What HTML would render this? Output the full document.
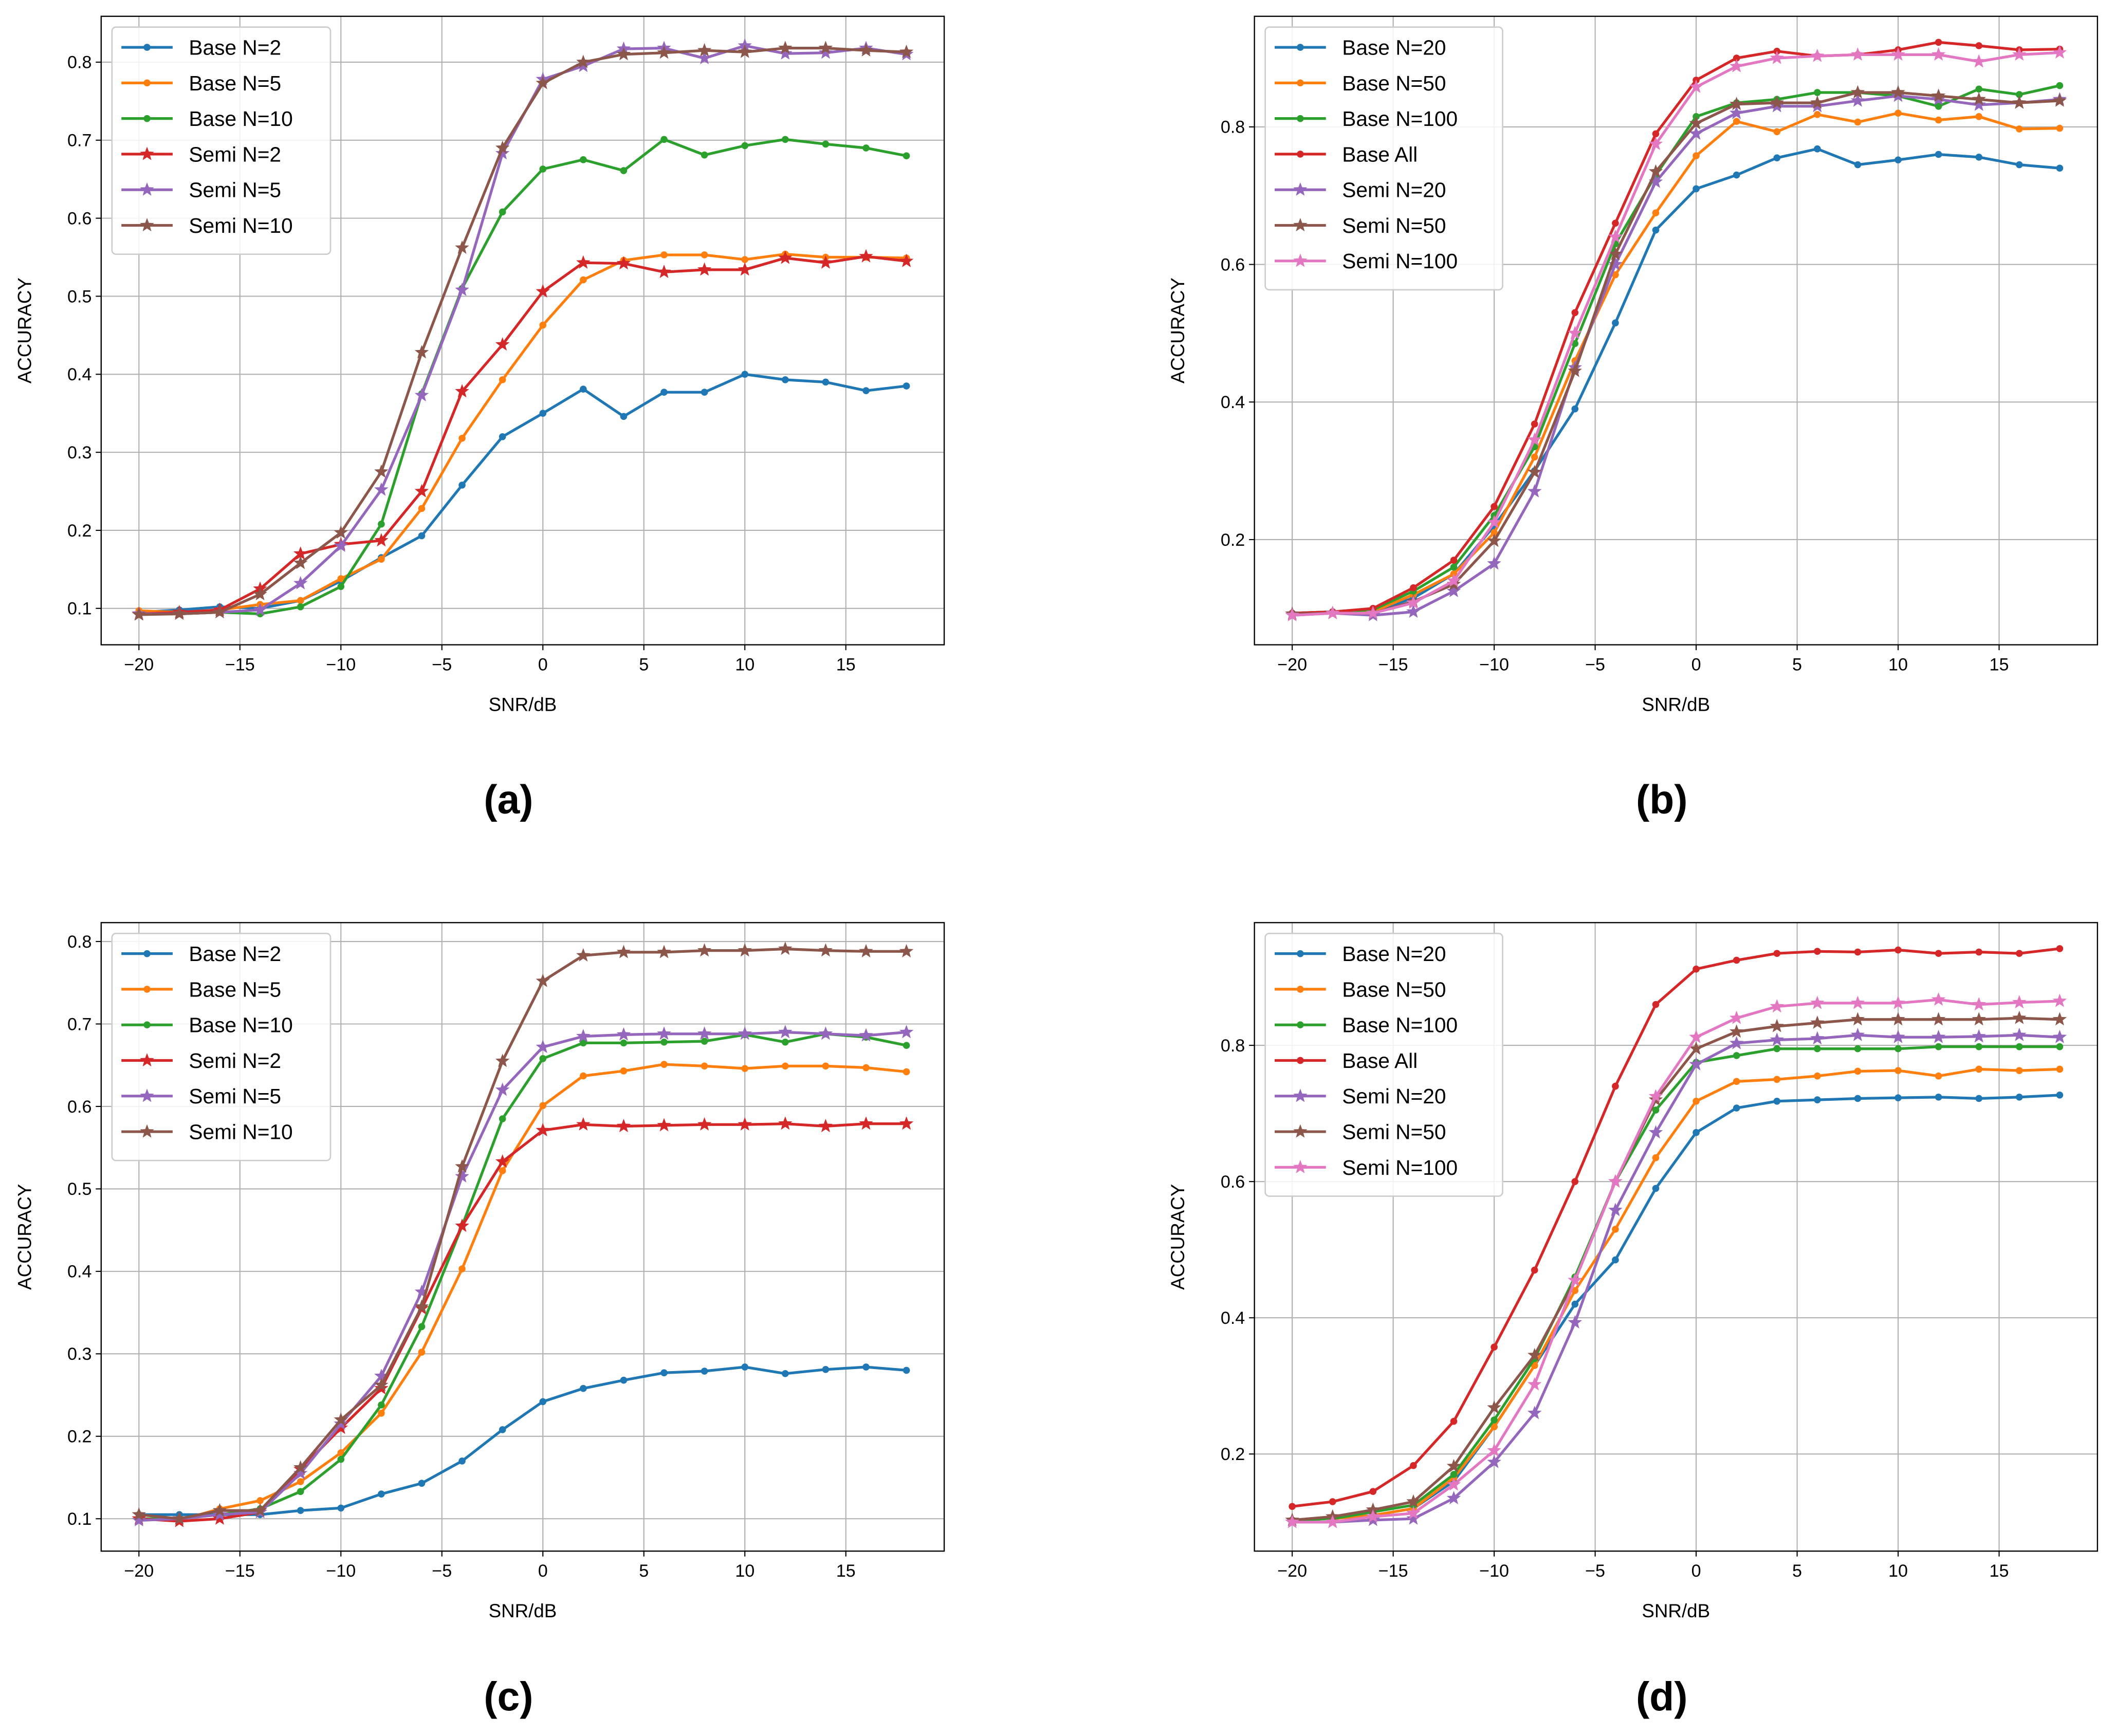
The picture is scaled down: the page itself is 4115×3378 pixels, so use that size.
<!DOCTYPE html>
<html><head><meta charset="utf-8"><style>
html,body{margin:0;padding:0;background:#fff}
svg{display:block}
text{font-family:"Liberation Sans","DejaVu Sans",sans-serif}
</style></head><body>
<svg id="fig" xmlns="http://www.w3.org/2000/svg" width="4115" height="3378" viewBox="0 0 1568 1287"></svg>
<script>
const xs=[-20,-18,-16,-14,-12,-10,-8,-6,-4,-2,0,2,4,6,8,10,12,14,16,18];
const xTicks=[-20,-15,-10,-5,0,5,10,15];
const namesA=["Base N=2","Base N=5","Base N=10","Semi N=2","Semi N=5","Semi N=10"];
const namesB=["Base N=20","Base N=50","Base N=100","Base All","Semi N=20","Semi N=50","Semi N=100"];
const ticksA=[0.1,0.2,0.3,0.4,0.5,0.6,0.7,0.8];
const ticksB=[0.2,0.4,0.6,0.8];
const a0=[0.095,0.098,0.102,0.100,0.110,0.135,0.165,0.193,0.258,0.320,0.350,0.381,0.346,0.377,0.377,0.400,0.393,0.390,0.379,0.385];
const a1=[0.097,0.095,0.098,0.105,0.110,0.138,0.163,0.228,0.318,0.393,0.463,0.521,0.546,0.553,0.553,0.547,0.554,0.550,0.550,0.549];
const a2=[0.093,0.093,0.095,0.093,0.102,0.128,0.208,0.375,0.510,0.608,0.663,0.675,0.661,0.701,0.681,0.693,0.701,0.695,0.690,0.680];
const a3=[0.093,0.095,0.098,0.125,0.170,0.182,0.187,0.250,0.378,0.438,0.506,0.543,0.542,0.531,0.534,0.534,0.549,0.543,0.551,0.545];
const a4=[0.093,0.093,0.095,0.098,0.132,0.180,0.252,0.373,0.508,0.683,0.778,0.795,0.817,0.818,0.805,0.821,0.811,0.812,0.818,0.810];
const a5=[0.092,0.093,0.095,0.118,0.158,0.197,0.275,0.428,0.562,0.690,0.773,0.800,0.810,0.812,0.815,0.813,0.818,0.818,0.815,0.813];
const b0=[0.093,0.095,0.095,0.115,0.150,0.220,0.300,0.390,0.515,0.650,0.710,0.730,0.755,0.768,0.745,0.752,0.760,0.756,0.745,0.740];
const b1=[0.092,0.093,0.095,0.120,0.150,0.210,0.320,0.460,0.585,0.675,0.758,0.808,0.793,0.818,0.807,0.820,0.810,0.815,0.797,0.798];
const b2=[0.093,0.095,0.098,0.125,0.160,0.235,0.335,0.485,0.630,0.730,0.815,0.835,0.840,0.850,0.850,0.845,0.830,0.855,0.847,0.860];
const b3=[0.093,0.095,0.100,0.130,0.170,0.248,0.368,0.530,0.660,0.790,0.868,0.900,0.910,0.903,0.905,0.912,0.923,0.918,0.912,0.913];
const b4=[0.090,0.093,0.090,0.095,0.125,0.165,0.270,0.450,0.600,0.720,0.790,0.820,0.830,0.830,0.838,0.845,0.840,0.832,0.835,0.840];
const b5=[0.092,0.093,0.093,0.110,0.135,0.198,0.298,0.445,0.615,0.735,0.805,0.833,0.835,0.835,0.850,0.850,0.845,0.840,0.835,0.838];
const b6=[0.090,0.093,0.093,0.108,0.140,0.225,0.345,0.500,0.640,0.775,0.858,0.888,0.900,0.903,0.905,0.905,0.905,0.895,0.905,0.908];
const c0=[0.105,0.105,0.105,0.105,0.110,0.113,0.130,0.143,0.170,0.208,0.242,0.258,0.268,0.277,0.279,0.284,0.276,0.281,0.284,0.280];
const c1=[0.100,0.098,0.112,0.122,0.145,0.180,0.228,0.302,0.403,0.522,0.601,0.637,0.643,0.651,0.649,0.646,0.649,0.649,0.647,0.642];
const c2=[0.100,0.100,0.105,0.112,0.133,0.172,0.238,0.333,0.455,0.585,0.658,0.677,0.677,0.678,0.679,0.687,0.678,0.688,0.684,0.674];
const c3=[0.100,0.097,0.100,0.108,0.160,0.210,0.258,0.355,0.455,0.533,0.571,0.578,0.576,0.577,0.578,0.578,0.579,0.576,0.579,0.579];
const c4=[0.098,0.100,0.105,0.108,0.155,0.215,0.273,0.375,0.515,0.620,0.672,0.685,0.687,0.688,0.688,0.688,0.690,0.688,0.686,0.690];
const c5=[0.105,0.100,0.110,0.110,0.162,0.220,0.262,0.357,0.527,0.655,0.752,0.783,0.787,0.787,0.789,0.789,0.791,0.789,0.788,0.788];
const d0=[0.103,0.105,0.110,0.120,0.160,0.240,0.330,0.420,0.485,0.590,0.672,0.708,0.718,0.720,0.722,0.723,0.724,0.722,0.724,0.727];
const d1=[0.103,0.105,0.110,0.120,0.165,0.240,0.330,0.440,0.530,0.635,0.718,0.747,0.750,0.755,0.762,0.763,0.755,0.765,0.763,0.765];
const d2=[0.103,0.105,0.115,0.125,0.170,0.250,0.340,0.460,0.600,0.705,0.775,0.785,0.795,0.795,0.795,0.795,0.798,0.798,0.798,0.798];
const d3=[0.123,0.130,0.145,0.183,0.248,0.357,0.470,0.600,0.740,0.860,0.912,0.925,0.935,0.938,0.937,0.940,0.935,0.937,0.935,0.942];
const d4=[0.100,0.100,0.103,0.105,0.135,0.188,0.260,0.393,0.558,0.672,0.772,0.803,0.808,0.810,0.815,0.812,0.812,0.813,0.815,0.812];
const d5=[0.103,0.108,0.118,0.130,0.182,0.268,0.345,0.455,0.600,0.720,0.795,0.820,0.828,0.833,0.838,0.838,0.838,0.838,0.840,0.838];
const d6=[0.100,0.100,0.108,0.113,0.155,0.205,0.302,0.455,0.600,0.725,0.812,0.840,0.857,0.862,0.862,0.862,0.867,0.860,0.863,0.865];

const colors=["#1f77b4","#ff7f0e","#2ca02c","#d62728","#9467bd","#8c564b","#e377c2"];
const NS="http://www.w3.org/2000/svg";
const fig=document.getElementById('fig');
function el(t,at,p){const e=document.createElementNS(NS,t);for(const k in at)e.setAttribute(k,at[k]);(p||fig).appendChild(e);return e;}
function star(cx,cy,r){let s="";for(let i=0;i<10;i++){const rr=i%2?r*0.42:r;const a=-Math.PI/2+i*Math.PI/5;s+=(i?"L":"M")+(cx+rr*Math.cos(a)).toFixed(2)+","+(cy+rr*Math.sin(a)).toFixed(2);}return s+"Z";}

const panels=[
 {id:"a",L:75,R:700,T:12,B:478,y0:0.1,py0:451,y1:0.8,py1:46,ticks:ticksA,names:namesA,series:[a0,a1,a2,a3,a4,a5],base:3,lab:[377,593],tf:d=>d.toFixed(1)},
 {id:"b",L:930,R:1555,T:12,B:478,y0:0.2,py0:400,y1:0.8,py1:94,ticks:ticksB,names:namesB,series:[b0,b1,b2,b3,b4,b5,b6],base:4,lab:[1232,593],tf:d=>d.toFixed(1)},
 {id:"c",L:75,R:700,T:684,B:1150,y0:0.1,py0:1126,y1:0.8,py1:698,ticks:ticksA,names:namesA,series:[c0,c1,c2,c3,c4,c5],base:3,lab:[377,1258],tf:d=>d.toFixed(1)},
 {id:"d",L:930,R:1555,T:684,B:1150,y0:0.2,py0:1078,y1:0.8,py1:775,ticks:ticksB,names:namesB,series:[d0,d1,d2,d3,d4,d5,d6],base:4,lab:[1232,1258],tf:d=>d.toFixed(1)}
];
panels.forEach(p=>{
 const g=el('g',{});
 
 
 const xOff=p.L+28;
 const X=v=>xOff+(v+20)*(p.R-p.L-56)/38;
 const Y=v=>p.py0+(v-p.y0)*(p.py1-p.py0)/(p.y1-p.y0);
 xTicks.forEach(t=>{
  el('line',{x1:X(t),x2:X(t),y1:p.T,y2:p.B,stroke:"#b0b0b0","stroke-width":0.8},g);
  el('line',{x1:X(t),x2:X(t),y1:p.B,y2:p.B+4,stroke:"#000","stroke-width":0.8},g);
  const tx=el('text',{x:X(t),y:p.B+19,"font-size":13,"text-anchor":"middle"},g);
  tx.textContent=(t<0?"\u2212"+(-t):t);
  
  
 });
 p.ticks.forEach(t=>{
  el('line',{x1:p.L,x2:p.R,y1:Y(t),y2:Y(t),stroke:"#b0b0b0","stroke-width":0.8},g);
  el('line',{x1:p.L-4,x2:p.L,y1:Y(t),y2:Y(t),stroke:"#000","stroke-width":0.8},g);
  const tx=el('text',{x:p.L-7,y:Y(t)+4.5,"font-size":13,"text-anchor":"end"},g);
  tx.textContent=p.tf(t);
  
  
 });
 const cp="clip"+p.id;
 const cl=el('clipPath',{id:cp},g);el('rect',{x:p.L,y:p.T,width:p.R-p.L,height:p.B-p.T},cl);
 p.series.forEach((s,i)=>{
  const sg=el('g',{"clip-path":"url(#"+cp+")"},g);
  
  
  el('polyline',{points:s.map((v,j)=>X(xs[j])+","+Y(v)).join(" "),fill:"none",stroke:colors[i],"stroke-width":2},sg);
  s.forEach((v,j)=>{
   if(i<p.base){const c=el('circle',{cx:X(xs[j]),cy:Y(v),r:2.6,fill:colors[i]},sg);}
   else{const c=el('path',{d:star(X(xs[j]),Y(v),5.5),fill:colors[i]},sg);}
  });
 });
 el('rect',{x:p.L,y:p.T,width:p.R-p.L,height:p.B-p.T,fill:"none",stroke:"#000","stroke-width":0.9},g);
 const n=p.names.length, lw=(p.base===3?162:176);
 const lg=el('g',{},g);
 
 
 el('rect',{x:p.L+8,y:p.T+8,width:lw,height:n*26.4+10,rx:3,fill:"#fff","fill-opacity":0.85,stroke:"#ccc","stroke-width":1},lg);
 p.names.forEach((nm,i)=>{
  const yy=p.T+23+i*26.4;
  el('line',{x1:p.L+15,x2:p.L+53,y1:yy,y2:yy,stroke:colors[i],"stroke-width":2},lg);
  if(i<p.base)el('circle',{cx:p.L+34,cy:yy,r:2.6,fill:colors[i]},lg);
  else el('path',{d:star(p.L+34,yy,5.5),fill:colors[i]},lg);
  const t=el('text',{x:p.L+65,y:yy+5.5,"font-size":15.5},lg);
  t.textContent=nm;
  
  
 });
 const xl=el('text',{x:(p.L+p.R)/2,y:p.B+49,"font-size":14,"text-anchor":"middle"},g);
 xl.textContent="SNR/dB";
 
 
 const yl=el('text',{x:0,y:0,"font-size":14,"text-anchor":"middle",transform:`translate(${p.L-52},${(p.T+p.B)/2}) rotate(-90)`},g);
 yl.textContent="ACCURACY";
 
 
 const lb=el('text',{x:p.lab[0],y:p.lab[1]+10,"font-size":30,"font-weight":"bold","text-anchor":"middle"},g);
 lb.textContent="("+p.id+")";
 
 
});
</script>
</body></html>
